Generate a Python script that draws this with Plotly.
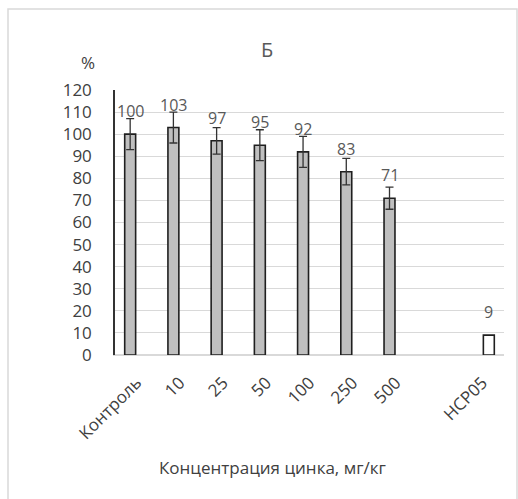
import plotly.graph_objects as go

# Zinc concentration groups and relative values (% of control)
categories = ["Контроль", "10", "25", "50", "100", "250", "500"]
values = [100, 103, 97, 95, 92, 83, 71]
errors = [7, 7, 6, 7, 7, 6, 5]

# Least significant difference (НСР05)
lsd_label = "HCP05"
lsd_value = [9]

y_ticks = list(range(0, 121, 10))

# Layout geometry (pixels)
W, H = 518, 499
ML, MR, MT, MB = 115, 14, 90, 144
PW, PH = W - ML - MR, H - MT - MB


def px_x(p):
    return (p - ML) / PW


def px_y(p):
    return (H - MB - p) / PH


FONT = "Open Sans"
TXT = "#404040"
LBL = "#595959"

shift = 0.149
bar_w = 0.253

cat_pos = list(range(len(categories)))
lsd_pos = len(categories) + 1

main_x = [p - shift for p in cat_pos]
lsd_x = [lsd_pos + shift]

fig = go.Figure()

fig.add_trace(go.Bar(
    x=main_x, y=values, width=bar_w,
    marker=dict(color="#bfbfbf", line=dict(color="#1f1f1f", width=1.6)),
    error_y=dict(type="data", array=errors, visible=True,
                 color="#333333", thickness=1.3, width=4),
    showlegend=False, hoverinfo="skip",
))

fig.add_trace(go.Bar(
    x=lsd_x, y=lsd_value, width=bar_w,
    marker=dict(color="white", line=dict(color="#1f1f1f", width=1.6)),
    showlegend=False, hoverinfo="skip",
))

annotations = []
for xv, yv in zip(main_x + lsd_x, values + lsd_value):
    annotations.append(dict(
        x=xv, y=yv, xref="x", yref="y", text=str(yv), showarrow=False,
        yanchor="bottom", yshift=10, font=dict(family=FONT, size=16, color=LBL),
    ))

annotations += [
    dict(x=px_x(267), y=px_y(49), xref="paper", yref="paper", text="Б",
         showarrow=False, xanchor="center", yanchor="middle",
         font=dict(family=FONT, size=20, color=LBL)),
    dict(x=px_x(88), y=px_y(62), xref="paper", yref="paper", text="%",
         showarrow=False, xanchor="center", yanchor="middle",
         font=dict(family=FONT, size=17, color=TXT)),
    dict(x=px_x(272), y=px_y(467), xref="paper", yref="paper",
         text="Концентрация цинка, мг/кг", showarrow=False,
         xanchor="center", yanchor="middle",
         font=dict(family=FONT, size=17, color=TXT)),
]

fig.update_layout(
    width=W, height=H,
    margin=dict(l=ML, r=MR, t=MT, b=MB),
    paper_bgcolor="white", plot_bgcolor="white",
    barmode="overlay",
    font=dict(family=FONT, color=TXT),
    annotations=annotations,
    shapes=[dict(type="rect", xref="paper", yref="paper",
                 x0=px_x(8), x1=px_x(517), y0=px_y(510), y1=px_y(9),
                 line=dict(color="#d9d9d9", width=1.5), layer="below")],
    xaxis=dict(
        range=[-0.5, lsd_pos + 0.5],
        tickmode="array",
        tickvals=cat_pos + [lsd_pos],
        ticktext=categories + [lsd_label],
        tickangle=-45,
        tickfont=dict(family=FONT, size=17, color=TXT),
        showgrid=False, zeroline=False,
        showline=True, linecolor="#d9d9d9", linewidth=1.2,
        ticks="", ticklabelstandoff=10,
    ),
    yaxis=dict(
        range=[0, 120],
        tickmode="array", tickvals=y_ticks,
        tickfont=dict(family=FONT, size=17, color=TXT),
        showgrid=True, gridcolor="#d9d9d9", gridwidth=1,
        zeroline=True, zerolinecolor="#d9d9d9",
        showline=True, linecolor="#333333", linewidth=1.5,
        ticks="", ticklabelstandoff=18,
    ),
)

fig.write_html("out.html")
